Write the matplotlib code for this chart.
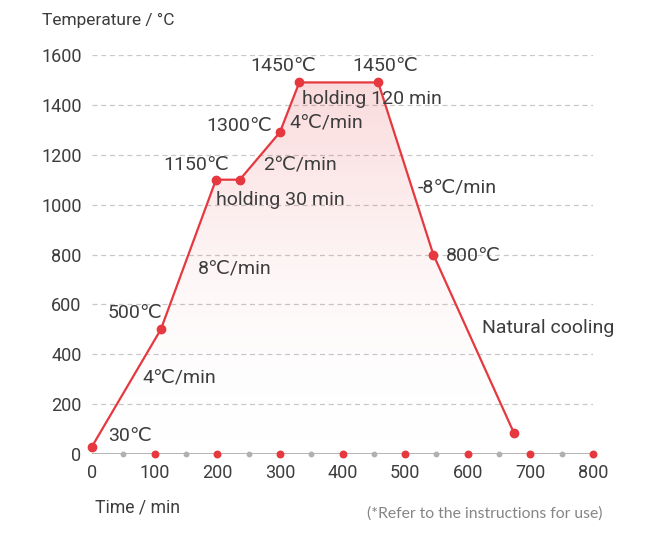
import numpy as np
import matplotlib.pyplot as plt
from matplotlib.patches import Polygon
from matplotlib.colors import LinearSegmentedColormap

# Dades de la corba de temperatura
temps = [0, 110, 198, 236, 300, 331, 457, 545, 674]          # min
temperatura = [30, 500, 1100, 1100, 1290, 1490, 1490, 800, 83]  # graus

ticks_x = [0, 100, 200, 300, 400, 500, 600, 700, 800]
ticks_mig = [50, 150, 250, 350, 450, 550, 650, 750]
ticks_y = [0, 200, 400, 600, 800, 1000, 1200, 1400, 1600]

# Etiquetes: (text, x, y, alineacio horitzontal)
etiquetes = [
    ('1450℃', 305, 1555, 'center'),
    ('1450℃', 468, 1555, 'center'),
    ('holding 120 min', 336, 1425, 'left'),
    ('4℃/min', 315, 1330, 'left'),
    ('1300℃', 288, 1315, 'right'),
    ('2℃/min', 273, 1160, 'left'),
    ('1150℃', 166, 1160, 'center'),
    ('holding 30 min', 198, 1020, 'left'),
    ('-8℃/min', 520, 1070, 'left'),
    ('800℃', 565, 795, 'left'),
    ('8℃/min', 169, 742, 'left'),
    ('500℃', 25, 567, 'left'),
    ('Natural cooling', 622, 505, 'left'),
    ('4℃/min', 81, 305, 'left'),
    ('30℃', 25, 73, 'left'),
]

vermell = '#e5383f'
gris_text = '#3d3d3d'
fonts = ['Roboto', 'DejaVu Sans']
plt.rcParams['font.family'] = fonts

fig = plt.figure(figsize=(6.67, 5.59), dpi=100)
ax = fig.add_axes([92/667, 1-454/559, (593-92)/667, (454-55)/559])
ax.set_xlim(0, 800)
ax.set_ylim(0, 1600)

# Graella horitzontal discontinua
for v in ticks_y[1:]:
    ax.axhline(v, color='#c8c8c8', lw=0.9, ls=(0, (4, 3)), zorder=1)
ax.axhline(0, color='#a8a8a8', lw=1.2, zorder=2)

# Farciment amb degradat
cmap = LinearSegmentedColormap.from_list('grad', [(1, 1, 1, 0), (0.90, 0.22, 0.25, 0.05),
                                                  (0.90, 0.22, 0.25, 0.18)])
grad = np.linspace(0, 1, 256).reshape(-1, 1)
im = ax.imshow(grad, extent=[0, 800, 0, 1490], origin='lower', aspect='auto',
               cmap=cmap, zorder=3)
poli = Polygon(list(zip(temps, temperatura)) + [(temps[-1], 0), (temps[0], 0)],
               closed=True, facecolor='none', edgecolor='none')
ax.add_patch(poli)
im.set_clip_path(poli)

ax.plot(temps, temperatura, color=vermell, lw=1.6, zorder=4, clip_on=False)
ax.scatter(temps, temperatura, s=36, color=vermell, zorder=5, clip_on=False)

# Punts de l'eix x
ax.scatter(ticks_x[1:], [0]*8, s=22, color=vermell, zorder=5, clip_on=False)
ax.scatter(ticks_mig, [0]*8, s=10, color='#b0b0b0', zorder=5, clip_on=False)

for s in ax.spines.values():
    s.set_visible(False)
ax.set_xticks(ticks_x)
ax.set_yticks(ticks_y)
ax.tick_params(length=0, labelsize=13, colors=gris_text, pad=7)
ax.tick_params(axis='y', pad=7.5)

for text, x, y, ha in etiquetes:
    ax.text(x, y, text, fontsize=14, color=gris_text, ha=ha, va='center', zorder=6)

fig.text(42/667, 1-20/559, 'Temperature / °C', fontsize=12.5, color=gris_text, va='center')
fig.text(95/667, 1-507/559, 'Time / min', fontsize=12.7, color=gris_text, va='center')
fig.text(367/667, 1-514/559, '(*Refer to the instructions for use)', fontsize=11.3,
         color='#858585', va='center', family=['Lato', 'DejaVu Sans'])

fig.savefig('out.png', dpi=100)
